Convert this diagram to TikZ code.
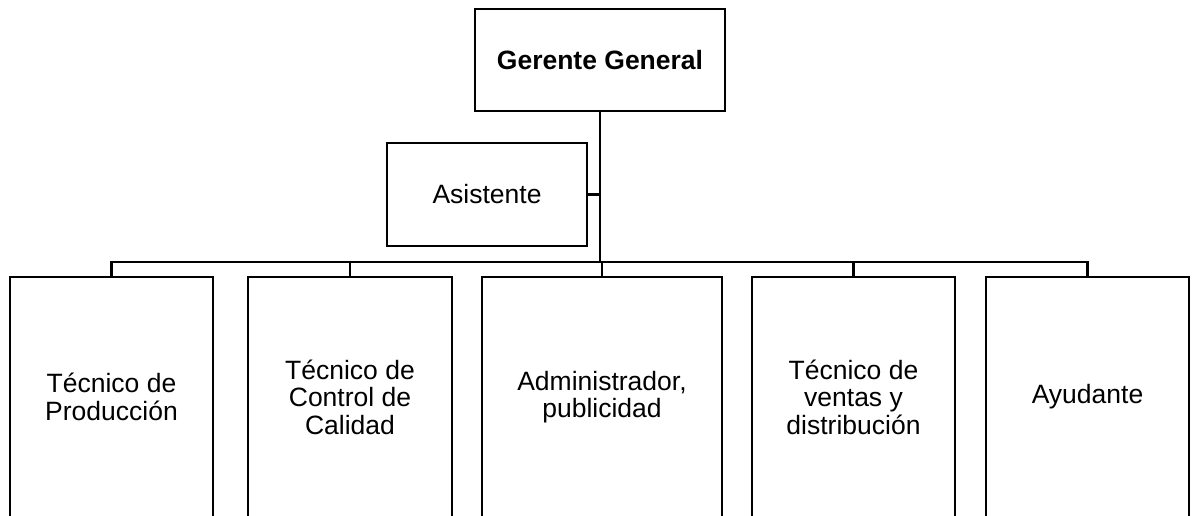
\documentclass[tikz,border=0pt]{standalone}
\usepackage{fontspec}
\setmainfont{Liberation Sans}
\begin{document}
\begin{tikzpicture}[x=1pt,y=-1pt,
  box/.style={draw=black, line width=2.6pt, fill=white, inner sep=0pt, align=center,
    font=\fontsize{26.5}{27.5}\selectfont},
  link/.style={draw=black, line width=2.6pt}]
\useasboundingbox (0,0) rectangle (1193,515);
\node[box, minimum width=250pt, minimum height=102pt, font=\fontsize{26.5}{27.5}\selectfont\bfseries] (gg) at (600,60) {Gerente General};
\node[box, minimum width=200pt, minimum height=103pt] (as) at (487,194.5) {Asistente};
\node[box, minimum width=203pt, minimum height=240pt] (b1) at (111.5,397) {Técnico de\\Producción};
\node[box, minimum width=204pt, minimum height=240pt] (b2) at (350,397) {Técnico de\\Control de\\Calidad};
\node[box, minimum width=240pt, minimum height=240pt] (b3) at (602,397) {Administrador,\\publicidad};
\node[box, minimum width=203pt, minimum height=240pt] (b4) at (853.5,397) {Técnico de\\ventas y\\distribución};
\node[box, minimum width=203pt, minimum height=240pt] (b5) at (1087.5,397) {Ayudante};
\coordinate (j) at (600,262);
\draw[link] (gg.south) -- (j);
\draw[link] (as.east) -- (as.east -| gg.south);
\draw[link] (b1.north) |- (j);
\draw[link] (b5.north) |- (j);
\draw[link] (b2.north) -- (b2.north |- j);
\draw[link] (b3.north) -- (b3.north |- j);
\draw[link] (b4.north) -- (b4.north |- j);
\end{tikzpicture}
\end{document}
